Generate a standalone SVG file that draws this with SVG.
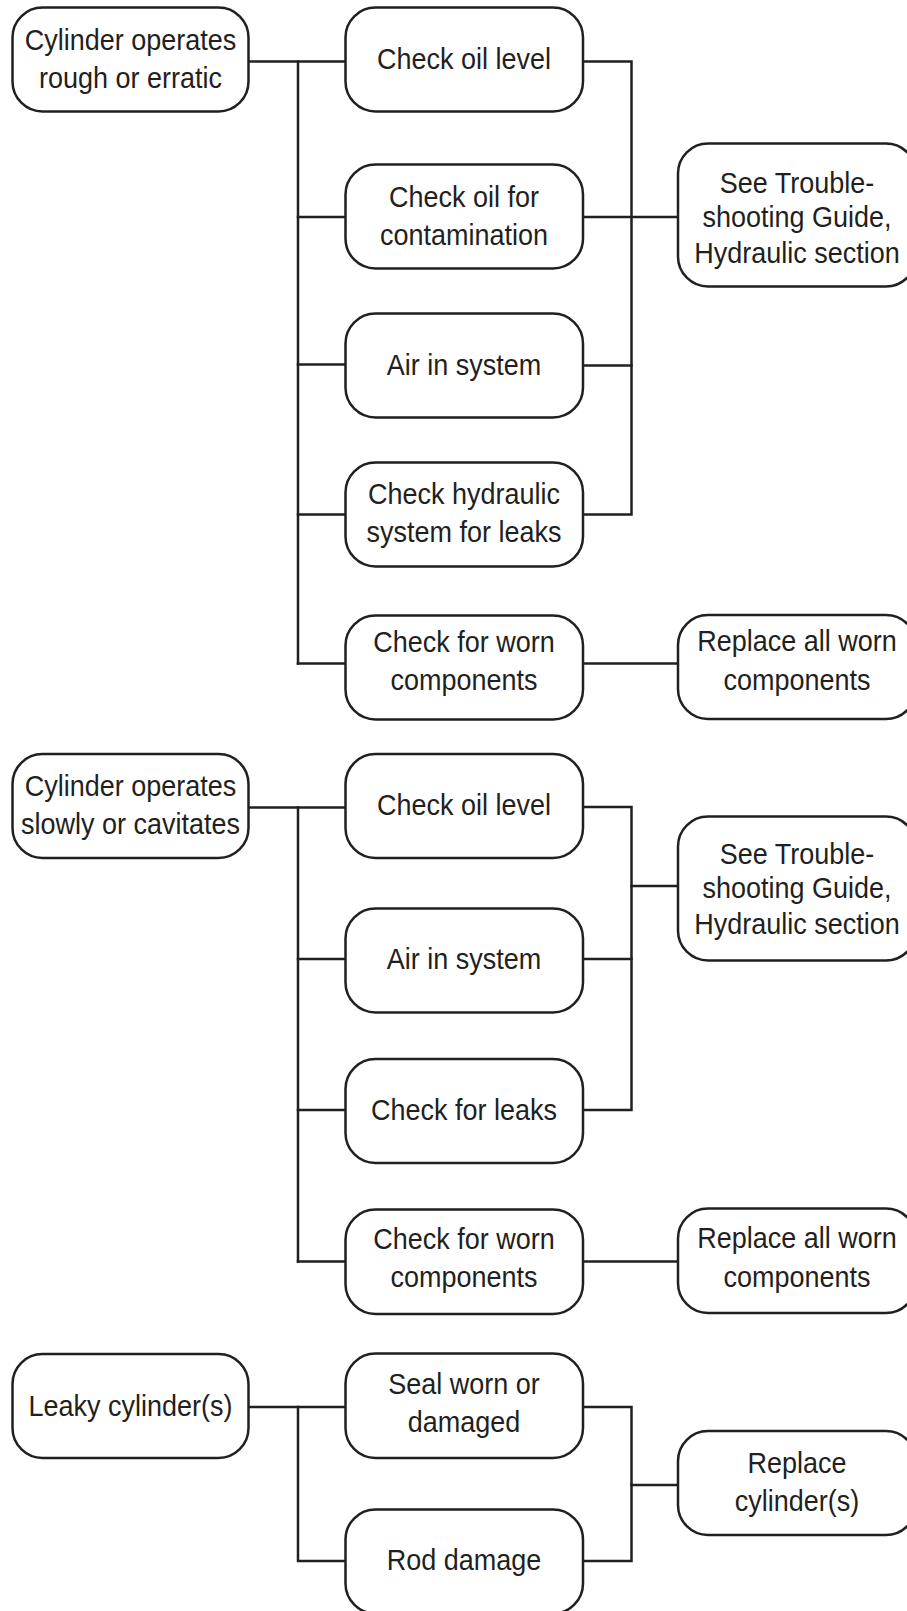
<svg xmlns="http://www.w3.org/2000/svg" width="907" height="1611" viewBox="0 0 907 1611">
  <style>
    .box { fill: #ffffff; stroke: #231f20; stroke-width: 2.5; }
    .wire { fill: none; stroke: #231f20; stroke-width: 2.5; stroke-linecap: square; stroke-linejoin: miter; }
    /* condensed look: larger face, narrowed around each line's own centre */
    text { font-family: "Liberation Sans", Arial, sans-serif; font-size: 30px; fill: #231f20; text-anchor: middle;
           transform-box: fill-box; transform-origin: center; transform: scaleX(0.9); }
  </style>

  <!-- connectors -->
  <g id="connectors" class="wire">
    <!-- section 1: rough or erratic -->
    <path class="wire" d="M248 61.5 H345.5"/>
    <path class="wire" d="M298 61.5 V663.5"/>
    <path class="wire" d="M298 217 H345.5 M298 364.5 H345.5 M298 514.5 H345.5 M298 663.5 H345.5"/>
    <path class="wire" d="M583 61.5 H631.5 V514.5 H583"/>
    <path class="wire" d="M583 217 H678 M583 365.5 H631.5"/>
    <path class="wire" d="M583 663.5 H678"/>
    <!-- section 2: slowly or cavitates -->
    <path class="wire" d="M248 807.5 H345.5"/>
    <path class="wire" d="M298 807.5 V1261.5"/>
    <path class="wire" d="M298 959 H345.5 M298 1110 H345.5 M298 1261.5 H345.5"/>
    <path class="wire" d="M583 807 H631.5 V1110 H583"/>
    <path class="wire" d="M583 959 H631.5 M631.5 886 H678"/>
    <path class="wire" d="M583 1261.5 H678"/>
    <!-- section 3: leaky cylinder -->
    <path class="wire" d="M248 1407 H345.5"/>
    <path class="wire" d="M298 1407 V1561 H345.5"/>
    <path class="wire" d="M583 1407 H631.5 V1561 H583"/>
    <path class="wire" d="M631.5 1485 H678"/>
  </g>

  <!-- section 1 -->
  <g id="rough-erratic">
    <rect class="box" x="12.5" y="7.5" width="236" height="104" rx="30"/>
    <text x="130.5" y="50">Cylinder operates</text>
    <text x="130.5" y="88">rough or erratic</text>
  </g>
  <g id="r-oil-level">
    <rect class="box" x="345.5" y="7.5" width="237.5" height="104" rx="30"/>
    <text x="464" y="69">Check oil level</text>
  </g>
  <g id="r-oil-contamination">
    <rect class="box" x="345.5" y="164.5" width="237.5" height="104" rx="30"/>
    <text x="464" y="207">Check oil for</text>
    <text x="464" y="245">contamination</text>
  </g>
  <g id="r-air">
    <rect class="box" x="345.5" y="313.5" width="237.5" height="104" rx="30"/>
    <text x="464" y="375">Air in system</text>
  </g>
  <g id="r-hydraulic-leaks">
    <rect class="box" x="345.5" y="462.5" width="237.5" height="104" rx="30"/>
    <text x="464" y="504.5">Check hydraulic</text>
    <text x="464" y="542.5">system for leaks</text>
  </g>
  <g id="r-worn">
    <rect class="box" x="345.5" y="615.5" width="237.5" height="104" rx="30"/>
    <text x="464" y="652">Check for worn</text>
    <text x="464" y="690">components</text>
  </g>
  <g id="r-guide">
    <rect class="box" x="678" y="143.5" width="238" height="143" rx="30"/>
    <text x="797" y="193">See Trouble-</text>
    <text x="797" y="227.5">shooting Guide,</text>
    <text x="797" y="263">Hydraulic section</text>
  </g>
  <g id="r-replace-worn">
    <rect class="box" x="678" y="615" width="238" height="104" rx="30"/>
    <text x="797" y="651">Replace all worn</text>
    <text x="797" y="690">components</text>
  </g>

  <!-- section 2 -->
  <g id="slow-cavitates">
    <rect class="box" x="12.5" y="754" width="236" height="104" rx="30"/>
    <text x="130.5" y="796">Cylinder operates</text>
    <text x="130.5" y="834">slowly or cavitates</text>
  </g>
  <g id="s-oil-level">
    <rect class="box" x="345.5" y="754" width="237.5" height="104" rx="30"/>
    <text x="464" y="815">Check oil level</text>
  </g>
  <g id="s-air">
    <rect class="box" x="345.5" y="908.5" width="237.5" height="104" rx="30"/>
    <text x="464" y="969">Air in system</text>
  </g>
  <g id="s-leaks">
    <rect class="box" x="345.5" y="1059" width="237.5" height="104" rx="30"/>
    <text x="464" y="1120">Check for leaks</text>
  </g>
  <g id="s-worn">
    <rect class="box" x="345.5" y="1209.5" width="237.5" height="104.5" rx="30"/>
    <text x="464" y="1249">Check for worn</text>
    <text x="464" y="1287">components</text>
  </g>
  <g id="s-guide">
    <rect class="box" x="678" y="816.5" width="238" height="144" rx="30"/>
    <text x="797" y="864">See Trouble-</text>
    <text x="797" y="898.5">shooting Guide,</text>
    <text x="797" y="934">Hydraulic section</text>
  </g>
  <g id="s-replace-worn">
    <rect class="box" x="678" y="1208.5" width="238" height="104.5" rx="30"/>
    <text x="797" y="1248">Replace all worn</text>
    <text x="797" y="1287">components</text>
  </g>

  <!-- section 3 -->
  <g id="leaky">
    <rect class="box" x="12.5" y="1354" width="236" height="104" rx="30"/>
    <text x="130.5" y="1416">Leaky cylinder(s)</text>
  </g>
  <g id="l-seal">
    <rect class="box" x="345.5" y="1353.5" width="237.5" height="104.5" rx="30"/>
    <text x="464" y="1394">Seal worn or</text>
    <text x="464" y="1432">damaged</text>
  </g>
  <g id="l-rod">
    <rect class="box" x="345.5" y="1509.5" width="237.5" height="104" rx="30"/>
    <text x="464" y="1570">Rod damage</text>
  </g>
  <g id="l-replace-cylinder">
    <rect class="box" x="678" y="1431" width="238" height="104" rx="30"/>
    <text x="797" y="1473">Replace</text>
    <text x="797" y="1511">cylinder(s)</text>
  </g>
</svg>
